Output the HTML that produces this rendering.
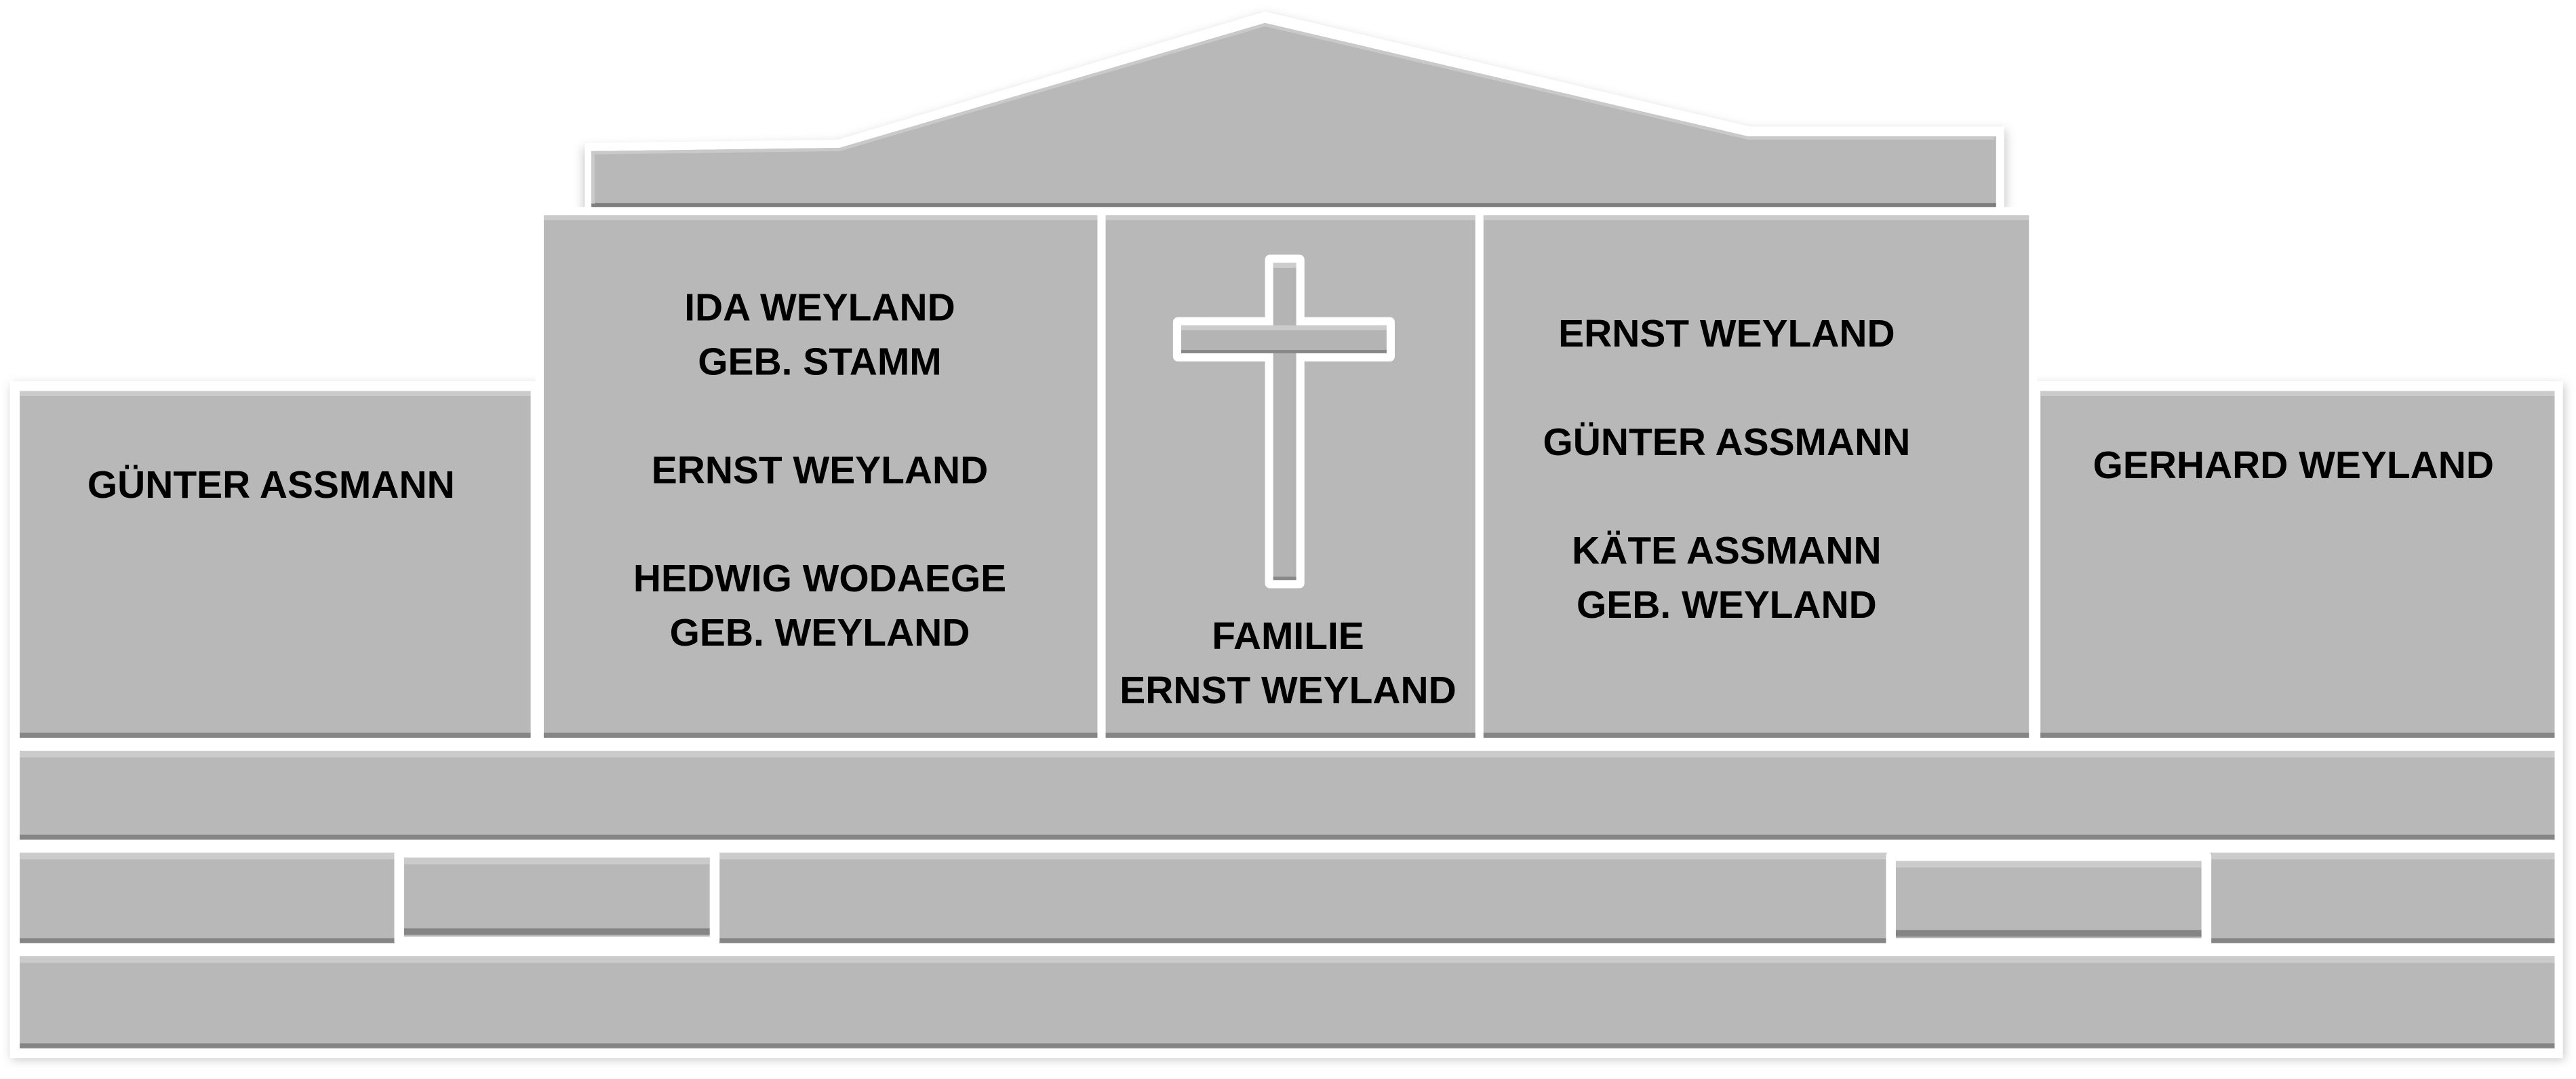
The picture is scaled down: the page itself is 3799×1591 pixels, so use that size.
<!DOCTYPE html>
<html><head><meta charset="utf-8"><style>
html,body{margin:0;padding:0;background:#fff;width:3799px;height:1591px;overflow:hidden}
svg{display:block}
text{font-family:"Liberation Sans",sans-serif;font-weight:bold;fill:#000;text-anchor:middle;font-size:23.5px}
</style></head><body>
<svg width="3799" height="1591" viewBox="0 0 1568 656.7" preserveAspectRatio="none">
<defs>
<filter id="sh" x="-5%" y="-5%" width="110%" height="115%"><feGaussianBlur stdDeviation="3"/></filter>
</defs>
<!-- shadows -->
<g fill="#bbb" filter="url(#sh)" opacity="0.8">
<rect x="7" y="234" width="1554" height="411"/>
<polygon points="355,90 510,87 770,9 1065,79 1221,79 1221,130 355,130"/>
</g>
<!-- roof -->
<polygon points="356,87 510,85 770,7 1065,77 1220,77 1220,128 356,128" fill="#fff"/>
<polygon points="360,92 511,90 770,14 1064,83 1215,83 1215,125 360,125" fill="#b8b8b8"/>
<polyline points="360,125 1215,125" stroke="#7e7e7e" stroke-width="3"/>
<polyline points="361,124 361,93 511,91 770,15 1064,84 1214,84" fill="none" stroke="#c9c9c9" stroke-width="2"/>
<!-- white backings -->
<rect x="6" y="232" width="322" height="222" fill="#fff"/>
<rect x="326" y="126" width="914" height="328" fill="#fff"/>
<rect x="1236" y="232" width="324" height="222" fill="#fff"/>
<rect x="6" y="450" width="1554" height="194" fill="#fff"/>
<!-- panels -->
<g fill="#b8b8b8">
<rect x="12" y="238" width="311" height="211"/>
<rect x="331" y="131" width="337" height="318"/>
<rect x="673" y="131" width="225" height="318"/>
<rect x="903" y="131" width="332" height="318"/>
<rect x="1242" y="238" width="313" height="211"/>
<rect x="12" y="457" width="1543" height="54"/>
<rect x="12" y="519" width="1543" height="55"/>
<rect x="12" y="582" width="1543" height="56"/>
</g>
<!-- bevels -->
<g fill="#cbcbcb">
<rect x="12" y="238" width="311" height="3"/>
<rect x="331" y="131" width="337" height="3"/>
<rect x="673" y="131" width="225" height="3"/>
<rect x="903" y="131" width="332" height="3"/>
<rect x="1242" y="238" width="313" height="3"/>
<rect x="12" y="457" width="1543" height="4"/>
<rect x="12" y="519" width="1543" height="4"/>
<rect x="12" y="582" width="1543" height="4"/>
</g>
<g fill="#858585">
<rect x="12" y="446" width="311" height="3"/>
<rect x="331" y="446" width="337" height="3"/>
<rect x="673" y="446" width="225" height="3"/>
<rect x="903" y="446" width="332" height="3"/>
<rect x="1242" y="446" width="313" height="3"/>
<rect x="12" y="508" width="1543" height="3"/>
<rect x="12" y="571" width="1543" height="3"/>
<rect x="12" y="635" width="1543" height="3"/>
</g>
<!-- inset boxes -->
<rect x="240" y="516" width="198" height="60" rx="3" fill="#fff"/>
<rect x="246" y="522" width="186" height="48" fill="#b8b8b8"/>
<rect x="246" y="522" width="186" height="4" fill="#cbcbcb"/>
<rect x="246" y="565" width="186" height="4" fill="#858585"/>
<rect x="1148" y="518" width="198" height="59" rx="3" fill="#fff"/>
<rect x="1154" y="524" width="186" height="47" fill="#b8b8b8"/>
<rect x="1154" y="524" width="186" height="4" fill="#cbcbcb"/>
<rect x="1154" y="566" width="186" height="4" fill="#858585"/>
<!-- cross -->
<g fill="#fff">
<rect x="770" y="155" width="24" height="203" rx="3"/>
<rect x="714" y="193" width="135" height="27" rx="3"/>
</g>
<g fill="#b4b4b4">
<rect x="775" y="160" width="14" height="193"/>
<rect x="719" y="198" width="125" height="17"/>
</g>
<rect x="775" y="160" width="14" height="3" fill="#ccc"/>
<rect x="719" y="198" width="125" height="3" fill="#ccc"/>
<rect x="719" y="213" width="125" height="2" fill="#888"/>
<rect x="775" y="351" width="14" height="2" fill="#888"/>
<!-- text -->
<text x="165" y="303">GÜNTER ASSMANN</text>
<text x="499" y="195">IDA WEYLAND</text>
<text x="499" y="228">GEB. STAMM</text>
<text x="499" y="294">ERNST WEYLAND</text>
<text x="499" y="360">HEDWIG WODAEGE</text>
<text x="499" y="393">GEB. WEYLAND</text>
<text x="784" y="395">FAMILIE</text>
<text x="784" y="428">ERNST WEYLAND</text>
<text x="1051" y="211">ERNST WEYLAND</text>
<text x="1051" y="277">GÜNTER ASSMANN</text>
<text x="1051" y="343">KÄTE ASSMANN</text>
<text x="1051" y="376">GEB. WEYLAND</text>
<text x="1396" y="291">GERHARD WEYLAND</text>
</svg>
</body></html>
